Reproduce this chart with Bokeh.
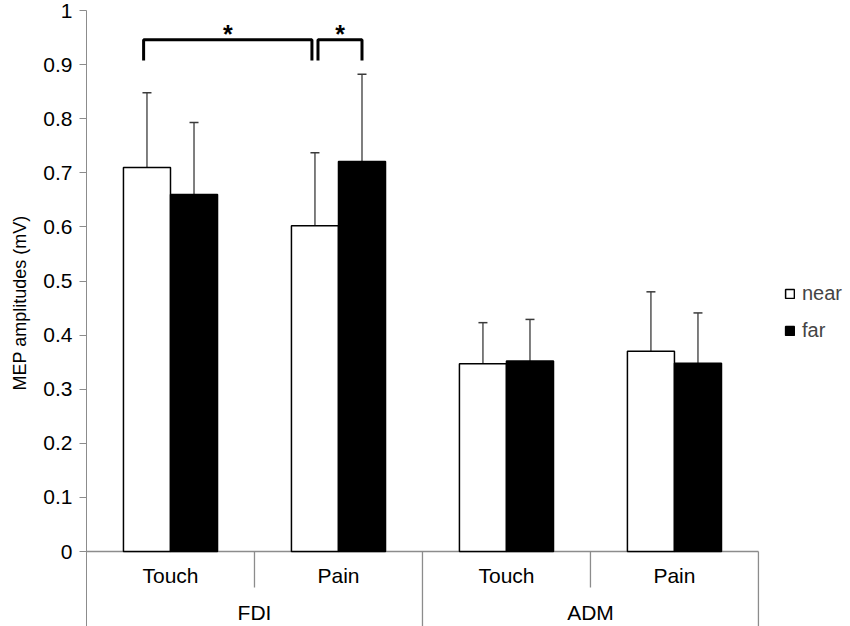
import math
from bokeh.plotting import figure
from bokeh.models import (ColumnDataSource, Range1d, FixedTicker, NumeralTickFormatter,
                          Whisker, TeeHead, Legend, LegendItem, Title)
from bokeh.core.properties import value
from bokeh.embed import file_html
from bokeh.resources import INLINE

# ---- data ----
muscles = ["FDI", "ADM"]
conditions = ["Touch", "Pain", "Touch", "Pain"]
near_vals = [0.710, 0.602, 0.347, 0.370]
far_vals = [0.660, 0.721, 0.352, 0.348]
near_err = [0.138, 0.135, 0.076, 0.110]
far_err = [0.133, 0.161, 0.077, 0.093]
y_ticks = [0, 0.1, 0.2, 0.3, 0.4, 0.5, 0.6, 0.7, 0.8, 0.9, 1.0]

FONT = "Liberation Sans"
GRAY = "#8c8c8c"
OFF = 0.14
BW = 0.28
Y_BOT = -0.1386

centers = [i + 0.5 for i in range(len(conditions))]
near_x = [c - OFF for c in centers]
far_x = [c + OFF for c in centers]

near_src = ColumnDataSource(dict(x=near_x, top=near_vals,
                                 lo=[v - e for v, e in zip(near_vals, near_err)],
                                 hi=[v + e for v, e in zip(near_vals, near_err)]))
far_src = ColumnDataSource(dict(x=far_x, top=far_vals,
                                lo=[v - e for v, e in zip(far_vals, far_err)],
                                hi=[v + e for v, e in zip(far_vals, far_err)]))

p = figure(width=850, height=626, output_backend="svg", toolbar_location=None,
           x_range=Range1d(0, 4.548), y_range=Range1d(Y_BOT, 1.0),
           min_border_left=86, min_border_right=0, min_border_top=10, min_border_bottom=0)
p.outline_line_color = None
p.xgrid.visible = False
p.ygrid.visible = False
p.xaxis.visible = False
p.background_fill_color = "white"

yax = p.yaxis[0]
yax.ticker = FixedTicker(ticks=y_ticks)
yax.formatter = NumeralTickFormatter(format="0.[0]")
yax.axis_line_color = GRAY
yax.major_tick_line_color = GRAY
yax.minor_tick_line_color = None
yax.major_tick_in = 0
yax.major_tick_out = 7
yax.major_label_standoff = 7
yax.major_label_text_font = FONT
yax.major_label_text_font_size = "21px"
yax.major_label_text_color = "black"

# baseline and category separators
p.segment(x0=[0], y0=[0], x1=[len(conditions)], y1=[0], line_color=GRAY, line_width=1.3)
small_sep = [1, 3]
big_sep = [2, 4]
p.segment(x0=small_sep, y0=[0] * 2, x1=small_sep, y1=[-0.0665] * 2, line_color=GRAY, line_width=1.3)
p.segment(x0=big_sep, y0=[0] * 2, x1=big_sep, y1=[Y_BOT] * 2, line_color=GRAY, line_width=1.3)

# bars
near_r = p.vbar(x="x", top="top", bottom=0, width=BW, source=near_src,
                fill_color="white", line_color="black", line_width=1.5)
far_r = p.vbar(x="x", top="top", bottom=0, width=BW, source=far_src,
               fill_color="black", line_color="black", line_width=1.5)

for src in (near_src, far_src):
    w = Whisker(source=src, base="x", lower="lo", upper="hi",
                line_color="#3a3a3a", line_width=1.3,
                upper_head=TeeHead(size=9, line_color="#3a3a3a", line_width=1.5),
                lower_head=TeeHead(size=9, line_color="#3a3a3a", line_width=1.5))
    p.add_layout(w)

# category labels
p.text(x=centers, y=[-0.0444] * len(centers), text=conditions,
       text_font=value(FONT), text_font_size="21px", text_align="center",
       text_baseline="middle", text_color="black")
m_centers = [2 * j + 1 for j in range(len(muscles))]
p.text(x=m_centers, y=[-0.1128] * len(muscles), text=muscles,
       text_font=value(FONT), text_font_size="21px", text_align="center",
       text_baseline="middle", text_color="black")

# significance brackets
b_top = 0.946
b_bot = 0.9076
g = 0.018
b1 = (near_x[0] - 0.02, near_x[1] - g)
b2 = (near_x[1] + g, far_x[1])
for (a, b) in (b1, b2):
    p.line(x=[a, a, b, b], y=[b_bot, b_top, b_top, b_bot], line_color="black", line_width=3)
p.text(x=[(b1[0] + b1[1]) / 2, (b2[0] + b2[1]) / 2], y=[0.956, 0.956], text=["*", "*"],
       text_font=value(FONT), text_font_size="25px", text_font_style="bold",
       text_align="center", text_baseline="alphabetic", text_color="black")

# y axis label
p.add_layout(Title(text="MEP amplitudes (mV)", align="right", offset=205, standoff=17,
                   vertical_align="top",
                   text_font=FONT, text_font_size="18px", text_font_style="normal",
                   text_color="black"), "left")

legend = Legend(items=[LegendItem(label="near", renderers=[near_r]),
                       LegendItem(label="far", renderers=[far_r])],
                location=(698, 284), glyph_width=11, glyph_height=11,
                label_text_font=FONT, label_text_font_size="20px",
                label_height=23, spacing=14, label_standoff=7,
                padding=0, margin=0, border_line_color=None, background_fill_alpha=0)
p.add_layout(legend)

open("out.html", "w").write(file_html(p, INLINE))
